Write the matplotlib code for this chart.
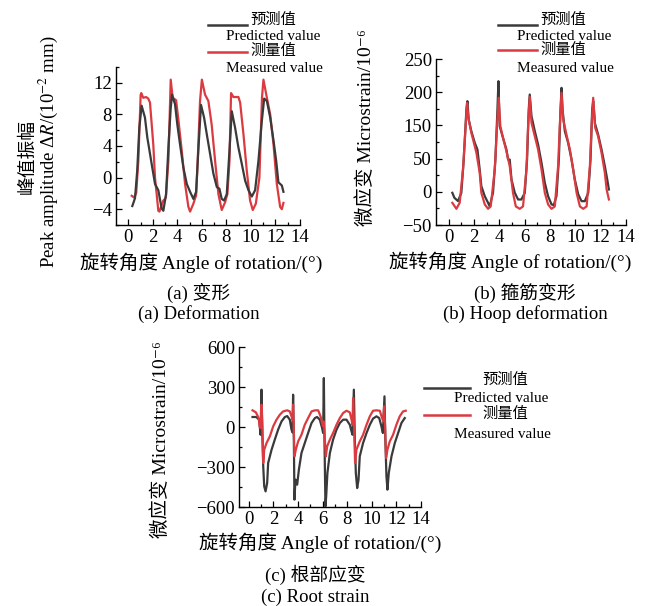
import numpy as np
import matplotlib
matplotlib.use("Agg")
import matplotlib.pyplot as plt
from matplotlib.lines import Line2D

# ---------------- data ----------------
# (a) Deformation, peak amplitude (10^-2 mm)
a_pred_x = [0.33, 0.55, 0.73, 0.9, 1.09, 1.36, 1.55, 1.71, 1.91, 2.18, 2.45, 2.72, 2.86, 3.08, 3.27, 3.46, 3.57,
            3.81, 4.0, 4.22, 4.49, 4.77, 5.04, 5.31, 5.53, 5.71, 5.93, 6.18, 6.4, 6.67, 6.94, 7.22, 7.43, 7.62,
            7.81, 8.03, 8.25, 8.44, 8.71, 8.98, 9.26, 9.53, 9.8, 10.07, 10.34, 10.61, 10.89, 11.08, 11.3, 11.57,
            11.84, 12.06, 12.24, 12.38, 12.52, 12.65]
a_pred_y = [-3.6, -2.6, 0.9, 6.3, 9.1, 7.6, 5.1, 3.6, 1.7, -0.8, -1.6, -3.9, -4.2, -2.1, 3.8, 8.8, 10.5,
            9.3, 6.7, 4.2, 1.3, -0.8, -1.8, -2.7, -1.8, 3.4, 9.2, 7.6, 5.5, 3.0, 0.5, -1.2, -1.4, -2.7,
            -2.9, -2.1, 3.4, 8.4, 6.3, 3.8, 1.7, -0.4, -1.6, -2.4, -1.6, 2.1, 7.2, 10.0, 9.7, 7.6,
            4.7, 2.1, -0.6, -0.8, -1.0, -1.8]
a_meas_x = [0.28, 0.45, 0.55, 0.65, 0.82, 1.01, 1.06, 1.22, 1.45, 1.63, 1.77, 2.04, 2.18, 2.45, 2.54, 2.86, 3.0,
            3.07, 3.27, 3.46, 3.62, 3.9, 4.08, 4.36, 4.63, 4.9, 5.04, 5.31, 5.45, 5.53, 5.66, 5.85, 6.0,
            6.26, 6.53, 6.8, 7.08, 7.35, 7.62, 7.9, 8.0, 8.08, 8.25, 8.38, 8.57, 8.98, 9.12, 9.39, 9.66,
            9.93, 10.15, 10.4, 10.69, 10.9, 11.02, 11.3, 11.57, 11.84, 12.11, 12.38, 12.52, 12.65]
a_meas_y = [-2.3, -2.5, -2.3, -1.9, 2.1, 10.5, 10.7, 10.1, 10.2, 10.0, 9.5, 4.2, 0.0, -4.2, -4.3, -2.9, -2.7,
            -2.4, 2.1, 12.4, 10.1, 9.8, 7.4, 3.4, -0.8, -3.7, -4.3, -3.3, -2.6, -2.3, 2.1, 9.7, 12.4,
            10.5, 9.7, 6.7, 2.1, -2.1, -4.1, -3.1, -2.5, -2.1, 2.1, 10.7, 10.2, 10.2, 9.5, 5.5, 0.9,
            -2.9, -4.1, -3.3, 0.0, 10.1, 12.4, 10.1, 8.0, 4.2, -0.8, -3.7, -4.0, -3.2]

# (b) Hoop deformation, microstrain (10^-6)
b_pred_x = [0.29, 0.45, 0.74, 1.0, 1.19, 1.4, 1.48, 1.58, 1.79, 2.06, 2.27, 2.45, 2.58, 2.85, 3.11, 3.24, 3.5,
            3.69, 3.85, 3.93, 3.98, 4.03, 4.29, 4.56, 4.69, 4.82, 4.96, 5.22, 5.48, 5.74, 6.01, 6.19, 6.32,
            6.4, 6.54, 6.8, 7.06, 7.33, 7.59, 7.85, 8.12, 8.3, 8.51, 8.7, 8.83, 8.91, 8.99, 9.17, 9.43,
            9.7, 9.96, 10.23, 10.49, 10.75, 11.02, 11.2, 11.33, 11.41, 11.55, 11.8, 12.07, 12.33, 12.52, 12.65]
b_pred_y = [-1.5, -9, -14, -1.5, 48.6, 174, 186.5, 158.9, 132.6, 97.6, 77.4, 33.6, 8.5, -6.6, -16.6, -22, -1.5,
            48.6, 174, 216.6, 179, 147.6, 112.6, 77.4, 48.6, 48.6, 18.5, -1.5, -11.6, -11.6, -1.5, 48.6, 174,
            196.5, 163.8, 132.6, 92.4, 43.7, 13.6, -6.6, -19, -20, -6.6, 48.6, 174, 206.6, 174, 132.6, 97.6,
            48.6, 18.5, -4, -14.1, -14.1, -1.5, 48.6, 174, 186.5, 152.8, 122.6, 77.4, 38.6, 18.5, 3.5]
b_meas_x = [0.29, 0.61, 0.87, 1.13, 1.26, 1.45, 1.56, 1.79, 2.06, 2.19, 2.45, 2.58, 2.85, 3.11, 3.32, 3.64, 3.82,
            3.95, 4.08, 4.29, 4.56, 4.82, 5.08, 5.3, 5.61, 5.87, 6.14, 6.27, 6.4, 6.54, 6.8, 7.06, 7.33,
            7.59, 7.85, 8.12, 8.38, 8.64, 8.77, 8.91, 9.04, 9.3, 9.57, 9.83, 10.1, 10.36, 10.62, 10.89,
            11.15, 11.28, 11.41, 11.57, 11.8, 12.07, 12.33, 12.47, 12.65]
b_meas_y = [-16.6, -25.6, -16.6, 33.6, 97.6, 184, 161, 127.8, 87.4, 67.4, 28.6, -1.5, -19, -25.6, -22, 33.6, 147.6,
            191.6, 147.6, 112.6, 72.2, 38.6, -1.5, -22, -25.6, -22, 33.6, 147.6, 193, 153.9, 117.4, 77.4, 33.6,
            -1.5, -19, -25.6, -22, 38.6, 147.6, 199, 158.9, 122.6, 77.4, 33.6, -1.5, -22, -25.6, -22,
            38.6, 147.6, 191.6, 142.8, 117.4, 67.4, 28.6, 3.5, -11.6]

# (c) Root strain, microstrain (10^-6)
c_pred_x = [0.3, 0.6, 0.84, 0.95, 1.03, 1.1, 1.17, 1.25, 1.36, 1.49, 1.57, 1.85, 2.11, 2.38, 2.66, 2.93, 3.12,
            3.33, 3.47, 3.55, 3.6, 3.66, 3.71, 3.79, 3.93, 4.07, 4.28, 4.55, 4.82, 5.1, 5.37, 5.55, 5.77,
            5.96, 6.04, 6.1, 6.15, 6.23, 6.29, 6.39, 6.59, 6.85, 7.13, 7.4, 7.67, 7.94, 8.21, 8.35, 8.43,
            8.54, 8.62, 8.7, 8.81, 8.92, 9.02, 9.29, 9.57, 9.84, 10.1, 10.38, 10.6, 10.79, 10.9, 11.03,
            11.1, 11.19, 11.27, 11.38, 11.6, 11.87, 12.14, 12.41, 12.68]
c_pred_y = [75, 75, 55, -58, 280, -60, -295, -445, -483, -420, -270, -170, -95, -20, 42, 75, 82,
            55, -20, -40, 242, -95, -545, -395, -433, -320, -195, -120, -45, 30, 67, 75, 55,
            -8, -45, 367, -95, -595, -520, -345, -195, -95, -20, 30, 55, 55, 17, -33, -58,
            280, -95, -345, -458, -395, -220, -120, -45, 17, 63, 80, 67, 2, -45, 230,
            -95, -370, -470, -345, -220, -120, -45, 30, 67]
c_meas_x = [0.3, 0.57, 0.79, 0.89, 0.96, 1.03, 1.1, 1.17, 1.25, 1.44, 1.71, 1.98, 2.25, 2.52, 2.79, 3.12, 3.33,
            3.47, 3.55, 3.6, 3.65, 3.71, 3.82, 4.01, 4.28, 4.55, 4.82, 5.1, 5.37, 5.64, 5.83, 5.96, 6.04,
            6.09, 6.15, 6.26, 6.37, 6.59, 6.85, 7.13, 7.4, 7.67, 7.94, 8.21, 8.35, 8.43, 8.48, 8.56, 8.64,
            8.75, 9.02, 9.29, 9.57, 9.84, 10.1, 10.38, 10.65, 10.79, 10.93, 11.0, 11.08, 11.16, 11.27,
            11.46, 11.73, 12.0, 12.27, 12.54, 12.76]
c_meas_y = [125, 110, 70, 0, -8, 167, 5, -270, -170, -120, -70, 5, 55, 92, 117, 125, 117,
            80, 55, 167, 5, -220, -170, -108, -58, 17, 67, 117, 125, 125, 80, 30, 5,
            42, -45, -220, -145, -95, -45, 17, 67, 105, 122, 110, 55, 17, 217, 5, -270,
            -170, -108, -58, 17, 80, 122, 125, 122, 80, 42, 155, 5, -233, -170,
            -108, -58, 17, 80, 117, 122]

a_yticks = [-4, 0, 4, 8, 12]
b_yticks = [-50, 0, 50, 150, 200, 250]
c_yticks = [-600, -300, 0, 300, 600]
x_ticks = [0, 2, 4, 6, 8, 10, 12, 14]

# ---------------- style ----------------
W, H = 648, 606
SERIF = ['Liberation Serif', 'Noto Sans CJK SC', 'DejaVu Serif']
plt.rcParams['font.family'] = SERIF
plt.rcParams['mathtext.fontset'] = 'stix'
plt.rcParams['axes.unicode_minus'] = True
RED = '#db3b40'
BLK = '#3a3a3a'
TICK_FS = 13.5
XLAB_FS = 14
YLAB_FS = 13.5
CAP_FS = 13.5
LEG_FS = 11
LW = 1.6

fig = plt.figure(figsize=(W / 100, H / 100), dpi=100)


def fx(px):
    return px / W


def fy(py):
    return 1 - py / H


def make_ax(l, r, t, b):
    return fig.add_axes([fx(l), fy(b), fx(r) - fx(l), (b - t) / H])


def style(ax):
    for s in ax.spines.values():
        s.set_linewidth(1.0)
    ax.spines['top'].set_visible(False)
    ax.spines['right'].set_visible(False)
    ax.tick_params(which='both', direction='in', labelsize=TICK_FS, width=0.9, pad=3)
    ax.tick_params(which='major', length=4)
    ax.tick_params(which='minor', length=2.5)
    ax.set_xticks(x_ticks)
    ax.set_xticks(np.arange(0, 15, 1), minor=True)
    for lab in ax.get_xticklabels() + ax.get_yticklabels():
        lab.set_family(SERIF)


def legend(x0, x1, y_black, y_red, tx_cn, y_cn1, y_cn2, tx_en, y_en1, y_en2):
    fig.add_artist(Line2D([fx(x0), fx(x1)], [fy(y_black)] * 2, color=BLK, lw=1.8, transform=fig.transFigure))
    fig.add_artist(Line2D([fx(x0), fx(x1)], [fy(y_red)] * 2, color=RED, lw=1.8, transform=fig.transFigure))
    fig.text(fx(tx_cn), fy(y_cn1), '预测值', fontsize=LEG_FS, ha='left', va='center', family=SERIF)
    fig.text(fx(tx_en), fy(y_en1), 'Predicted value', fontsize=LEG_FS, ha='left', va='center', family=SERIF)
    fig.text(fx(tx_cn), fy(y_cn2), '测量值', fontsize=LEG_FS, ha='left', va='center', family=SERIF)
    fig.text(fx(tx_en), fy(y_en2), 'Measured value', fontsize=LEG_FS, ha='left', va='center', family=SERIF)


# ---------------- (a) ----------------
axa = make_ax(116, 300, 67, 225)
axa.plot(a_meas_x, a_meas_y, color=RED, lw=LW)
axa.plot(a_pred_x, a_pred_y, color=BLK, lw=LW)
axa.set_xlim(-1, 14)
axa.set_ylim(-6, 14)
axa.set_yticks(a_yticks)
axa.set_yticks(np.arange(-6, 15, 2), minor=True)
style(axa)

fig.text(fx(201), fy(263), '旋转角度 Angle of rotation/(°)', fontsize=XLAB_FS, ha='center', va='center')
fig.text(fx(28), fy(156), '峰值振幅', fontsize=YLAB_FS, rotation=90, ha='center', va='center')
fig.text(fx(48), fy(152), r'Peak amplitude Δ$R$/(10$^{-2}$ mm)', fontsize=YLAB_FS, rotation=90,
         ha='center', va='center', family='Liberation Serif')
fig.text(fx(199), fy(293), '(a) 变形', fontsize=CAP_FS, ha='center', va='center')
fig.text(fx(199), fy(314), '(a) Deformation', fontsize=CAP_FS, ha='center', va='center')
legend(208, 247, 25, 52, 250, 20, 51, 226, 36, 68)

# ---------------- (b) ----------------
def b_fwd(v):
    v = np.asarray(v, dtype=float)
    return np.where(v <= 50, v, np.where(v <= 150, 50 + (v - 50) / 2, v - 50))


def b_inv(p):
    p = np.asarray(p, dtype=float)
    return np.where(p <= 50, p, np.where(p <= 100, 50 + 2 * (p - 50), p + 50))


axb = make_ax(436, 626, 59, 225)
axb.set_yscale('function', functions=(b_fwd, b_inv))
axb.plot(b_pred_x, b_pred_y, color=BLK, lw=LW)
axb.plot(b_meas_x, b_meas_y, color=RED, lw=LW)
axb.set_xlim(-1, 14)
axb.set_ylim(-50, 250)
axb.set_yticks(b_yticks, [('−' + str(-t)) if t < 0 else str(t) for t in b_yticks])
axb.set_yticks([-25, 25, 100, 175, 225], minor=True)
axb.yaxis.set_minor_formatter(plt.NullFormatter())
style(axb)

fig.text(fx(510), fy(262), '旋转角度 Angle of rotation/(°)', fontsize=XLAB_FS, ha='center', va='center')
fig.text(fx(366), fy(128), '微应变 Microstrain/10⁻⁶', fontsize=YLAB_FS + 0.5, rotation=90, ha='center', va='center')
fig.text(fx(525), fy(293), '(b) 箍筋变形', fontsize=CAP_FS, ha='center', va='center')
fig.text(fx(525), fy(314), '(b) Hoop deformation', fontsize=CAP_FS, ha='center', va='center')
legend(498, 537, 25, 50, 540, 20, 50, 517, 36, 68)

# ---------------- (c) ----------------
axc = make_ax(239, 421, 347, 507)
axc.plot(c_pred_x, c_pred_y, color=BLK, lw=LW)
axc.plot(c_meas_x, c_meas_y, color=RED, lw=LW)
axc.set_xlim(-0.8, 14)
axc.set_ylim(-600, 600)
axc.set_yticks(c_yticks)
axc.set_yticks(np.arange(-600, 601, 150), minor=True)
style(axc)

fig.text(fx(320), fy(543), '旋转角度 Angle of rotation/(°)', fontsize=XLAB_FS, ha='center', va='center')
fig.text(fx(161), fy(440), '微应变 Microstrain/10⁻⁶', fontsize=YLAB_FS + 0.5, rotation=90, ha='center', va='center')
fig.text(fx(315), fy(575), '(c) 根部应变', fontsize=CAP_FS, ha='center', va='center')
fig.text(fx(315), fy(597), '(c) Root strain', fontsize=CAP_FS, ha='center', va='center')
legend(424, 470, 388, 415, 482, 380, 414, 454, 398, 434)

fig.savefig('out.png', dpi=100, facecolor='white')
